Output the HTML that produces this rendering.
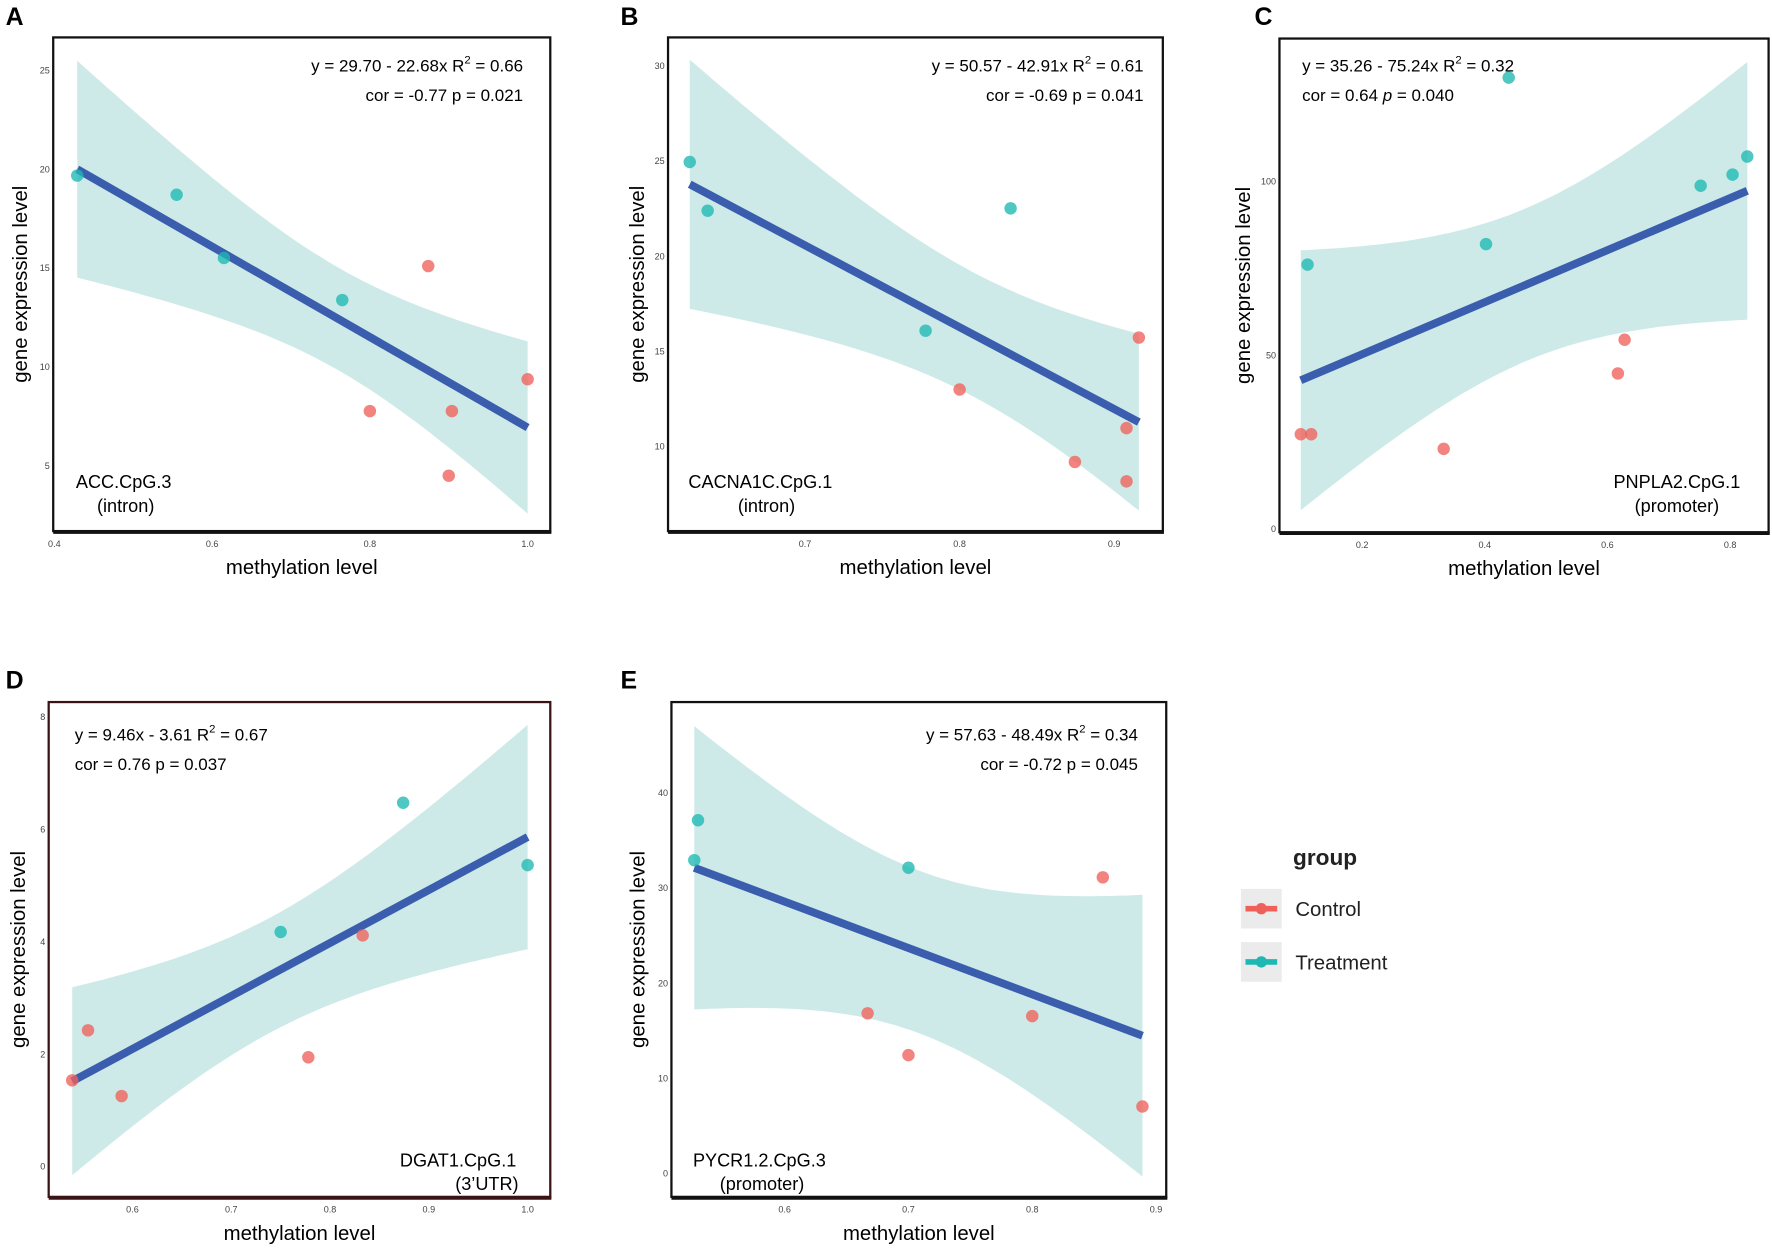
<!DOCTYPE html>
<html><head><meta charset="utf-8"><style>
html,body{margin:0;padding:0;background:#fff;}
svg{display:block;font-family:"Liberation Sans",Arial,sans-serif;}
</style></head><body>
<svg id="fig" width="1772" height="1249" viewBox="0 0 1565 1103" xmlns="http://www.w3.org/2000/svg"></svg>
<script>
// ---- Panel A data ----
const aX = [0.429,0.555,0.615,0.765,0.874,0.80,0.904,1.0,0.90];
const aY = [19.67,18.7,15.5,13.37,15.09,7.75,7.75,9.36,4.48];
const aG = ['T','T','T','T','C','C','C','C','C'];
const aXTicks = [0.4,0.6,0.8,1.0];
const aYTicks = [5,10,15,20,25];
// ---- Panel B data ----
const bX = [0.6254,0.637,0.833,0.778,0.8,0.8746,0.908,0.916,0.908];
const bY = [24.94,22.38,22.5,16.07,12.98,9.17,10.95,15.71,8.15];
const bG = ['T','T','T','T','C','C','C','C','C'];
const bXTicks = [0.7,0.8,0.9];
const bYTicks = [10,15,20,25,30];
// ---- Panel C data ----
const cX = [0.111,0.402,0.439,0.752,0.804,0.828,0.1,0.117,0.333,0.617,0.628];
const cY = [76,81.9,129.8,98.7,101.9,107.1,27.2,27.2,23,44.7,54.4];
const cG = ['T','T','T','T','T','T','C','C','C','C','C'];
const cXTicks = [0.2,0.4,0.6,0.8];
const cYTicks = [0,50,100];
// ---- Panel D data ----
const dX = [0.75,0.874,1.0,0.539,0.555,0.589,0.778,0.833];
const dY = [4.17,6.47,5.36,1.53,2.42,1.25,1.94,4.11];
const dG = ['T','T','T','C','C','C','C','C'];
const dXTicks = [0.6,0.7,0.8,0.9,1.0];
const dYTicks = [0,2,4,6,8];
// ---- Panel E data ----
const eX = [0.53,0.527,0.7,0.857,0.667,0.7,0.8,0.889];
const eY = [37.1,32.9,32.1,31.1,16.8,12.4,16.5,7.0];
const eG = ['T','T','T','C','C','C','C','C'];
const eXTicks = [0.6,0.7,0.8,0.9];
const eYTicks = [0,10,20,30,40];

const NS='http://www.w3.org/2000/svg';
const svg=document.getElementById('fig');
function mk(tag,attrs,parent){const e=document.createElementNS(NS,tag);for(const k in attrs)e.setAttribute(k,attrs[k]);(parent||svg).appendChild(e);return e;}
function txt(s,attrs,parent){const e=mk('text',attrs,parent);e.textContent=s;return e;}
const tTable={5:2.571,6:2.447,7:2.365,8:2.306,9:2.262};

function panel(cfg){
  const g=mk('g',{});
  
  
  const b=cfg.box;
  const sx=v=>cfg.xp[0]+(v-cfg.xa[0])*(cfg.xp[1]-cfg.xp[0])/(cfg.xa[1]-cfg.xa[0]);
  const sy=v=>cfg.yp[0]+(v-cfg.ya[0])*(cfg.yp[1]-cfg.yp[0])/(cfg.ya[1]-cfg.ya[0]);
  const L=txt(cfg.letter,{x:cfg.lx,y:cfg.ly,'font-size':22,'font-weight':'bold',fill:'#000'},g);
  
  
  const X=cfg.x,Y=cfg.y,n=X.length;
  const xm=X.reduce((a,c)=>a+c,0)/n, ym=Y.reduce((a,c)=>a+c,0)/n;
  let sxx=0,sxy=0;for(let i=0;i<n;i++){sxx+=(X[i]-xm)**2;sxy+=(X[i]-xm)*(Y[i]-ym);}
  const slope=sxy/sxx, icpt=ym-slope*xm;
  let sse=0;for(let i=0;i<n;i++){sse+=(Y[i]-icpt-slope*X[i])**2;}
  const s=Math.sqrt(sse/(n-2)), t=tTable[n-2]||2.3;
  const xmin=Math.min(...X), xmax=Math.max(...X);
  const up=[],lo=[];
  for(let k=0;k<=60;k++){const xv=xmin+(xmax-xmin)*k/60;const f=icpt+slope*xv;const h=t*s*Math.sqrt(1/n+(xv-xm)**2/sxx);up.push([sx(xv),sy(f+h)]);lo.push([sx(xv),sy(f-h)]);}
  const pts=up.concat(lo.reverse()).map(p=>p[0].toFixed(1)+','+p[1].toFixed(1)).join(' ');
  const band=mk('polygon',{points:pts,fill:'#cdeae9'},g);
  
  
  const ln=mk('line',{x1:sx(xmin),y1:sy(icpt+slope*xmin),x2:sx(xmax),y2:sy(icpt+slope*xmax),stroke:'#3a5dae','stroke-width':7},g);
  
  
  for(let i=0;i<n;i++){
    const c=mk('circle',{cx:sx(X[i]),cy:sy(Y[i]),r:5.5,fill:cfg.g[i]==='T'?'#1db8b2':'#f0605a','fill-opacity':0.78},g);
    
    
  }
  const bx=mk('rect',{x:b[0],y:b[1],width:b[2]-b[0],height:b[3]-b[1],fill:'none',stroke:cfg.boxColor||'#111','stroke-width':2},g);
  
  
  const bl=mk('line',{x1:b[0],y1:b[3]+1,x2:b[2]+1,y2:b[3]+1,stroke:cfg.boxColor||'#111','stroke-width':3},g);
  
  
  cfg.xt.forEach(v=>{
    const tl=txt(v.toFixed(1),{x:sx(v),y:b[3]+14,'font-size':8,fill:'#444','text-anchor':'middle'},g);
    
    
  });
  cfg.yt.forEach(v=>{
    const tl=txt(String(v),{x:b[0]-3,y:sy(v)+3,'font-size':8,fill:'#444','text-anchor':'end'},g);
    
    
  });
  const xt=txt('methylation level',{x:(b[0]+b[2])/2,y:b[3]+38,'font-size':18,'text-anchor':'middle',fill:'#000'},g);
  
  
  const cy=(b[1]+b[3])/2;
  const yt=txt('gene expression level',{x:cfg.ytx,y:cy,'font-size':18,'text-anchor':'middle',fill:'#000',transform:'rotate(-90 '+cfg.ytx+' '+cy+')'},g);
  
  
  const e1=mk('text',{x:cfg.ex,y:cfg.ey,'font-size':15,'text-anchor':cfg.ea,fill:'#000'},g);
  e1.innerHTML=cfg.eq1;
  
  
  const e2=mk('text',{x:cfg.ex,y:cfg.ey+26,'font-size':15,'text-anchor':cfg.ea,fill:'#000'},g);
  e2.innerHTML=cfg.eq2;
  
  
  const g1=txt(cfg.gl1,{x:cfg.gx,y:cfg.gy,'font-size':16,'text-anchor':cfg.ga,fill:'#000'},g);
  
  
  const g2=txt(cfg.gl2,{x:cfg.gx2,y:cfg.gy+21,'font-size':16,'text-anchor':'middle',fill:'#000'},g);
  
  
}
const sup='<tspan dy="-7" font-size="10">2</tspan><tspan dy="7"> = ';
panel({letter:'A',lx:5,ly:22,box:[47,33,486,469],xa:[0.4,1.0],xp:[48,466],ya:[5,25],yp:[411,62],x:aX,y:aY,g:aG,xt:aXTicks,yt:aYTicks,ytx:24,
 ex:462,ey:63,ea:'end',eq1:'y = 29.70 - 22.68x  R'+sup+'0.66</tspan>',eq2:'cor = -0.77  p = 0.021',gl1:'ACC.CpG.3',gx:67,gy:431,ga:'start',gl2:'(intron)',gx2:111});
panel({letter:'B',lx:548,ly:22,box:[590,33,1027,469],xa:[0.7,0.9],xp:[711,984],ya:[10,30],yp:[394,58],x:bX,y:bY,g:bG,xt:bXTicks,yt:bYTicks,ytx:569,
 ex:1010,ey:63,ea:'end',eq1:'y = 50.57 - 42.91x  R'+sup+'0.61</tspan>',eq2:'cor = -0.69  p = 0.041',gl1:'CACNA1C.CpG.1',gx:608,gy:431,ga:'start',gl2:'(intron)',gx2:677});
panel({letter:'C',lx:1108,ly:22,box:[1130,34,1562,470],xa:[0.2,0.8],xp:[1203,1528],ya:[0,100],yp:[467,160],x:cX,y:cY,g:cG,xt:cXTicks,yt:cYTicks,ytx:1104,
 ex:1150,ey:63,ea:'start',eq1:'y = 35.26 - 75.24x  R'+sup+'0.32</tspan>',eq2:'cor = 0.64 <tspan font-style="italic">p</tspan> = 0.040',gl1:'PNPLA2.CpG.1',gx:1537,gy:431,ga:'end',gl2:'(promoter)',gx2:1481});
panel({letter:'D',lx:5,ly:608,box:[43,620,486,1057],boxColor:'#3a1414',xa:[0.6,1.0],xp:[117,466],ya:[0,8],yp:[1030,633],x:dX,y:dY,g:dG,xt:dXTicks,yt:dYTicks,ytx:22,
 ex:66,ey:654,ea:'start',eq1:'y = 9.46x - 3.61  R'+sup+'0.67</tspan>',eq2:'cor = 0.76  p = 0.037',gl1:'DGAT1.CpG.1',gx:456,gy:1030,ga:'end',gl2:'(3\u2019UTR)',gx2:430});
panel({letter:'E',lx:548,ly:608,box:[593,620,1030,1057],xa:[0.6,0.9],xp:[693,1021],ya:[0,40],yp:[1036,700],x:eX,y:eY,g:eG,xt:eXTicks,yt:eYTicks,ytx:569,
 ex:1005,ey:654,ea:'end',eq1:'y = 57.63 - 48.49x  R'+sup+'0.34</tspan>',eq2:'cor = -0.72  p = 0.045',gl1:'PYCR1.2.CpG.3',gx:612,gy:1030,ga:'start',gl2:'(promoter)',gx2:673});

const lg=mk('g',{});


const lt=txt('group',{x:1142,y:764,'font-size':20,'font-weight':'bold',fill:'#222'},lg);


[['Control','#f0605a',785],['Treatment','#1db8b2',832]].forEach(([lab,col,y0])=>{
  const it=mk('g',{},lg);
  
  
  mk('rect',{x:1096,y:y0,width:36,height:35,fill:'#ebebeb'},it);
  mk('line',{x1:1100,y1:y0+17.5,x2:1128,y2:y0+17.5,stroke:col,'stroke-width':5},it);
  mk('circle',{cx:1114,cy:y0+17.5,r:5,fill:col},it);
  txt(lab,{x:1144,y:y0+24,'font-size':18,fill:'#222'},it);
});
</script>
</body></html>
